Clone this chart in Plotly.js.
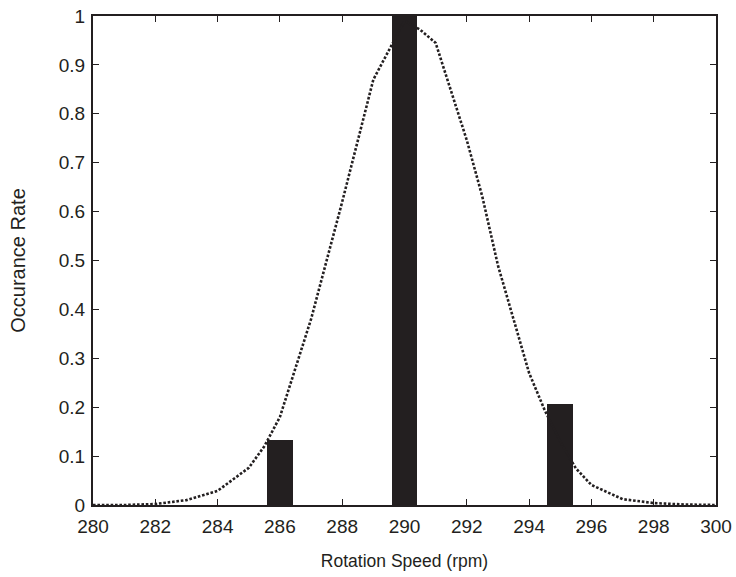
<!DOCTYPE html>
<html>
<head>
<meta charset="utf-8">
<script src="https://cdn.plot.ly/plotly-3.0.1.min.js"></script>
<style>html,body{margin:0;padding:0;background:#fff;}#chart{width:736px;height:577px;}</style>
</head>
<body>
<div id="chart"></div>
<script>
// Bar data (measured occurrence)
const barSpeeds = [286, 290, 295];
const barRates = [0.133, 1.0, 0.206];

// Dotted fitted curve
const curveSpeeds = [280, 281, 282, 283, 284, 285, 285.5, 286, 287, 288, 289, 289.5, 290, 290.5, 291, 292, 292.5, 293, 294, 294.5, 295, 295.5, 296, 297, 298, 299, 300];
const curveRates  = [0, 0, 0.002, 0.01, 0.029, 0.076, 0.12, 0.18, 0.38, 0.62, 0.87, 0.93, 0.99, 0.972, 0.945, 0.746, 0.63, 0.49, 0.27, 0.194, 0.13, 0.075, 0.041, 0.012, 0.004, 0.001, 0];

const xTicks = [280, 282, 284, 286, 288, 290, 292, 294, 296, 298, 300];
const yTicks = [0, 0.1, 0.2, 0.3, 0.4, 0.5, 0.6, 0.7, 0.8, 0.9, 1];
const yTickText = ['0', '0.1', '0.2', '0.3', '0.4', '0.5', '0.6', '0.7', '0.8', '0.9', '1'];

const font = 'Liberation Sans, Arial, sans-serif';

const traces = [
  {
    type: 'bar', x: barSpeeds, y: barRates, width: 0.82,
    marker: {color: '#231f20', line: {width: 0}},
    hoverinfo: 'skip'
  },
  {
    type: 'scatter', mode: 'lines', x: curveSpeeds, y: curveRates,
    line: {color: '#231f20', width: 2.6, dash: '2.6px,1.8px'},
    hoverinfo: 'skip'
  }
];

const layout = {
  width: 736, height: 577,
  margin: {l: 93, r: 20, t: 16, b: 72},
  paper_bgcolor: '#fff', plot_bgcolor: '#fff',
  showlegend: false,
  font: {family: font, size: 18, color: '#231f20'},
  xaxis: {
    range: [280, 300], tickvals: xTicks, ticktext: xTicks.map(String),
    ticks: 'inside', ticklen: 6, tickwidth: 1, tickcolor: '#231f20',
    showline: true, linecolor: '#231f20', linewidth: 2, mirror: 'allticks',
    showgrid: false, zeroline: false, ticklabelstandoff: 3,
    tickfont: {family: font, size: 19, color: '#231f20'},
    title: {text: 'Rotation Speed (rpm)', font: {family: font, size: 17.5, color: '#231f20'}, standoff: 19},
    automargin: false
  },
  yaxis: {
    range: [0, 1], tickvals: yTicks, ticktext: yTickText,
    ticks: 'inside', ticklen: 6, tickwidth: 1, tickcolor: '#231f20',
    showline: true, linecolor: '#231f20', linewidth: 2, mirror: 'allticks',
    showgrid: false, zeroline: false, ticklabelstandoff: 2,
    tickfont: {family: font, size: 19, color: '#231f20'},
    title: {text: 'Occurance Rate', font: {family: font, size: 20, color: '#231f20'}, standoff: 28},
    automargin: false
  },
  bargap: 0
};

Plotly.newPlot('chart', traces, layout, {displayModeBar: false, staticPlot: true});
</script>
</body>
</html>
